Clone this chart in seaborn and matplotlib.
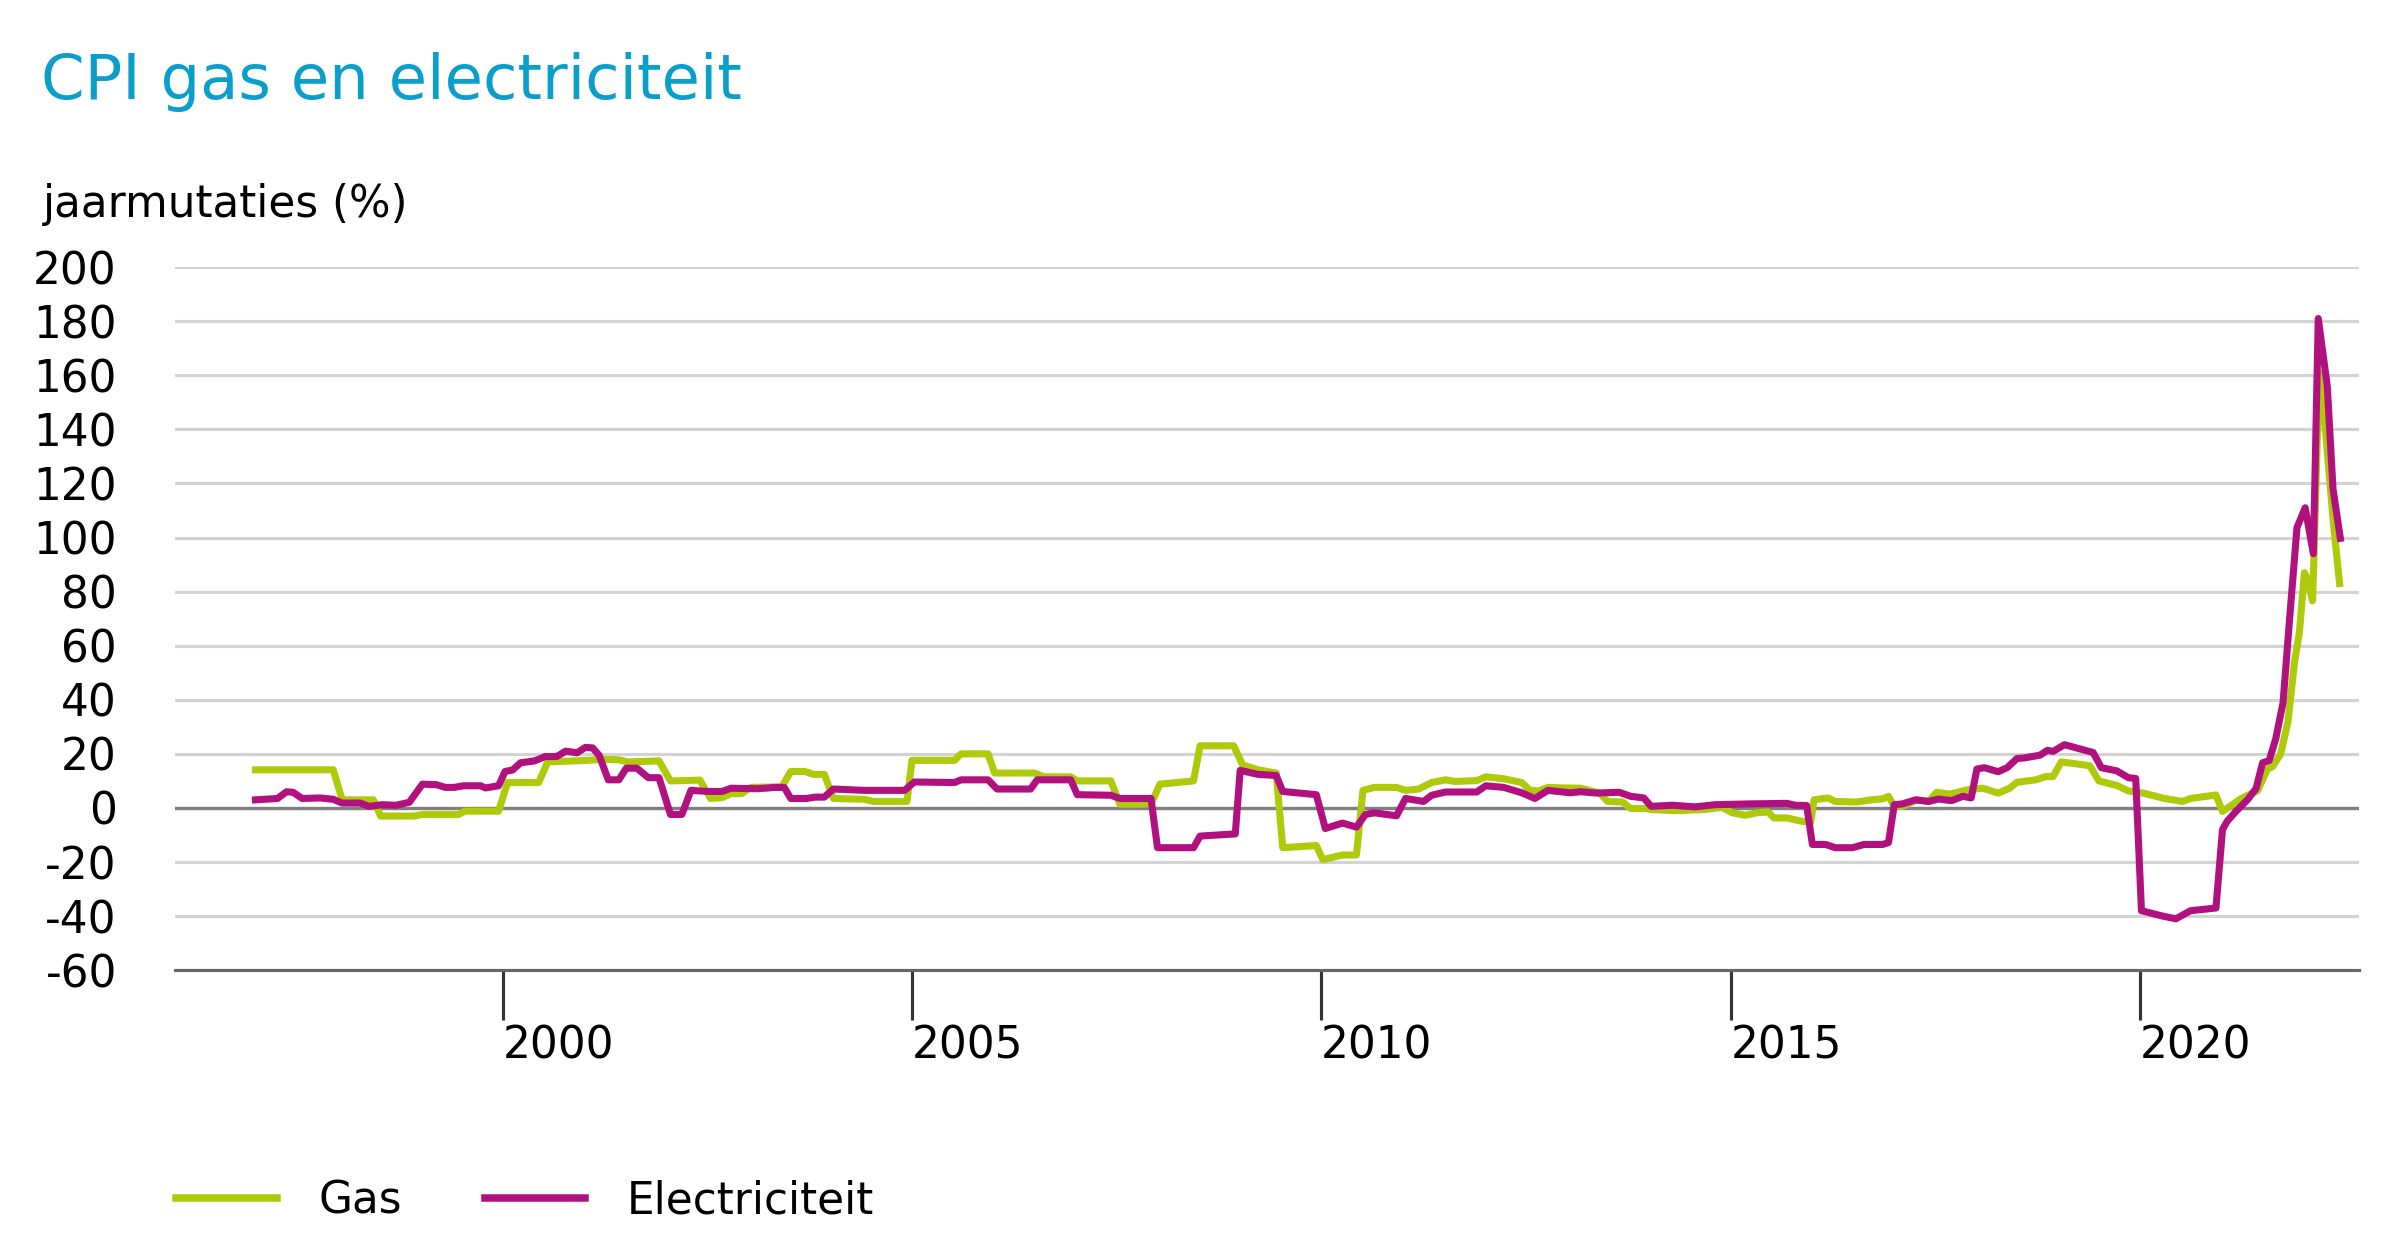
import pandas as pd
import numpy as np
import matplotlib.pyplot as plt
import seaborn as sns

# ====== data (decimal year, jaarmutatie %)
gas_t = [1996.98, 1997.93, 1998.04, 1998.42, 1998.51, 1998.92, 1999.02, 1999.46, 1999.54, 1999.95,
         2000.06, 2000.44, 2000.55, 2001.04, 2001.21, 2001.42, 2001.53, 2001.91, 2002.05, 2002.41,
         2002.54, 2002.68, 2002.79, 2002.92, 2003.03, 2003.41, 2003.52, 2003.69, 2003.80, 2003.93,
         2004.04, 2004.42, 2004.53, 2004.94, 2005.00, 2005.52, 2005.60, 2005.93, 2006.01, 2006.50,
         2006.61, 2006.94, 2007.02, 2007.43, 2007.54, 2007.92, 2008.03, 2008.44, 2008.52, 2008.93,
         2009.04, 2009.23, 2009.45, 2009.53, 2009.94, 2010.02, 2010.26, 2010.43, 2010.51, 2010.65,
         2010.92, 2011.03, 2011.19, 2011.35, 2011.52, 2011.63, 2011.90, 2012.01, 2012.23, 2012.45,
         2012.55, 2012.66, 2012.77, 2012.94, 2013.17, 2013.40, 2013.50, 2013.68, 2013.78, 2013.96,
         2014.03, 2014.34, 2014.67, 2014.90, 2015.02, 2015.18, 2015.32, 2015.46, 2015.53, 2015.69,
         2015.88, 2015.98, 2016.02, 2016.19, 2016.28, 2016.54, 2016.72, 2016.86, 2016.93, 2017.00,
         2017.10, 2017.28, 2017.42, 2017.52, 2017.68, 2017.89, 2018.08, 2018.27, 2018.41, 2018.50,
         2018.73, 2018.85, 2018.94, 2019.04, 2019.20, 2019.39, 2019.50, 2019.72, 2019.86, 2020.04,
         2020.30, 2020.52, 2020.62, 2020.93, 2021.01, 2021.24, 2021.44, 2021.56, 2021.62, 2021.72,
         2021.81, 2021.89, 2021.95, 2022.01, 2022.05, 2022.11, 2022.13, 2022.19, 2022.27, 2022.36,
         2022.44]
gas_v = [14.1, 14.1, 3.0, 3.0, -3.0, -3.0, -2.4, -2.4, -1.2, -1.2,
         9.4, 9.4, 17.0, 17.6, 18.0, 17.8, 17.0, 17.4, 10.0, 10.3,
         3.5, 3.8, 5.3, 5.3, 7.6, 7.8, 13.5, 13.5, 12.4, 12.4,
         3.5, 3.2, 2.4, 2.4, 17.6, 17.6, 20.0, 20.0, 12.9, 12.9,
         11.5, 11.5, 10.0, 10.0, 1.4, 1.4, 8.8, 10.0, 23.0, 23.0,
         15.9, 14.1, 12.9, -14.7, -13.9, -19.1, -17.4, -17.4, 6.5, 7.6,
         7.6, 6.5, 7.0, 9.4, 10.4, 9.8, 10.1, 11.5, 10.8, 9.4,
         6.5, 6.3, 7.6, 7.4, 7.3, 5.5, 2.4, 2.2, -0.2, -0.2,
         -0.6, -1.0, -0.6, 0.2, -1.8, -2.7, -1.8, -1.5, -3.7, -3.7,
         -5.0, -5.2, 3.0, 3.7, 2.4, 2.2, 3.0, 3.4, 4.3, 0.6,
         0.6, 3.0, 2.4, 5.8, 5.1, 6.7, 7.3, 5.5, 7.3, 9.5,
         10.4, 11.6, 11.6, 17.0, 16.4, 15.6, 10.0, 8.3, 6.3, 5.5,
         3.5, 2.4, 3.5, 4.8, -1.3, 3.5, 6.4, 14.4, 15.2, 19.9,
         31.9, 54.0, 65.0, 87.0, 84.5, 76.6, 95.7, 161.0, 139.0, 107.0,
         83.0]

elec_t = [1996.98, 1997.25, 1997.36, 1997.44, 1997.55, 1997.77, 1997.93, 1998.04, 1998.26, 1998.37,
          1998.53, 1998.70, 1998.86, 1999.02, 1999.19, 1999.30, 1999.41, 1999.52, 1999.73, 1999.79,
          1999.95, 2000.03, 2000.12, 2000.22, 2000.39, 2000.52, 2000.66, 2000.77, 2000.91, 2001.01,
          2001.10, 2001.18, 2001.29, 2001.42, 2001.51, 2001.64, 2001.78, 2001.91, 2002.05, 2002.19,
          2002.30, 2002.51, 2002.68, 2002.79, 2003.12, 2003.33, 2003.44, 2003.52, 2003.71, 2003.82,
          2003.93, 2004.04, 2004.42, 2004.91, 2005.03, 2005.52, 2005.60, 2005.93, 2006.04, 2006.45,
          2006.53, 2006.94, 2007.02, 2007.43, 2007.54, 2007.92, 2008.00, 2008.44, 2008.52, 2008.95,
          2009.01, 2009.23, 2009.45, 2009.53, 2009.94, 2010.05, 2010.26, 2010.43, 2010.54, 2010.65,
          2010.92, 2011.03, 2011.25, 2011.35, 2011.52, 2011.90, 2012.01, 2012.23, 2012.45, 2012.61,
          2012.77, 2013.04, 2013.17, 2013.36, 2013.64, 2013.78, 2013.94, 2014.03, 2014.29, 2014.57,
          2014.81, 2015.23, 2015.69, 2015.79, 2015.93, 2016.00, 2016.16, 2016.28, 2016.49, 2016.63,
          2016.86, 2016.93, 2017.00, 2017.10, 2017.26, 2017.42, 2017.54, 2017.70, 2017.84, 2017.94,
          2018.01, 2018.10, 2018.27, 2018.38, 2018.50, 2018.59, 2018.78, 2018.87, 2018.94, 2019.08,
          2019.25, 2019.43, 2019.53, 2019.72, 2019.86, 2019.95, 2020.02, 2020.28, 2020.44, 2020.62,
          2020.93, 2021.01, 2021.07, 2021.19, 2021.32, 2021.42, 2021.50, 2021.58, 2021.66, 2021.75,
          2021.83, 2021.92, 2022.02, 2022.12, 2022.18, 2022.29, 2022.36, 2022.45]
elec_v = [3.0, 3.5, 6.0, 5.8, 3.5, 3.7, 3.2, 1.8, 1.8, 0.6,
          1.2, 1.0, 2.1, 8.8, 8.6, 7.6, 7.6, 8.2, 8.2, 7.4,
          8.2, 13.5, 14.0, 16.7, 17.4, 19.0, 19.0, 21.0, 20.4, 22.4,
          22.2, 19.4, 10.4, 10.4, 14.7, 14.7, 11.2, 11.2, -2.4, -2.4,
          6.5, 6.1, 6.1, 7.3, 7.1, 7.6, 7.6, 3.5, 3.5, 4.0,
          4.0, 7.0, 6.5, 6.5, 9.6, 9.4, 10.4, 10.4, 7.0, 7.0,
          10.4, 10.4, 4.9, 4.7, 3.5, 3.5, -14.7, -14.7, -10.4, -9.6,
          13.9, 12.4, 12.0, 6.1, 4.9, -7.6, -5.6, -7.1, -2.4, -1.8,
          -2.9, 3.5, 2.4, 4.7, 5.9, 5.9, 8.2, 7.6, 5.6, 3.5,
          6.5, 5.6, 6.0, 5.5, 5.8, 4.3, 3.7, 0.6, 1.0, 0.4,
          1.2, 1.5, 1.7, 1.0, 0.9, -13.5, -13.5, -14.7, -14.7, -13.5,
          -13.5, -12.8, 1.2, 1.5, 3.0, 2.4, 3.3, 2.7, 4.3, 3.7,
          14.4, 14.9, 13.4, 14.9, 18.3, 18.5, 19.5, 21.3, 20.9, 23.4,
          22.0, 20.5, 14.9, 13.7, 11.2, 10.9, -38.0, -40.0, -41.0, -38.0,
          -37.0, -8.0, -4.8, -0.8, 3.2, 7.2, 16.7, 17.5, 25.5, 39.0,
          70.0, 103.7, 111.0, 94.0, 181.0, 156.0, 118.0, 99.7]

y_ticks = [-60, -40, -20, 0, 20, 40, 60, 80, 100, 120, 140, 160, 180, 200]
x_ticks = [2000, 2005, 2010, 2015, 2020]

GAS_COLOR = '#afca0b'
ELEC_COLOR = '#b0117f'

df = pd.concat([
    pd.DataFrame({'jaar': gas_t, 'waarde': gas_v, 'reeks': 'Gas'}),
    pd.DataFrame({'jaar': elec_t, 'waarde': elec_v, 'reeks': 'Electriciteit'}),
])

plt.rcParams['font.family'] = 'DejaVu Sans'
fig = plt.figure(figsize=(16, 8.4), dpi=150)
ax = fig.add_axes([0.073, 0.230, 0.910, 0.558])

sns.lineplot(data=df, x='jaar', y='waarde', hue='reeks', sort=False,
             palette={'Gas': GAS_COLOR, 'Electriciteit': ELEC_COLOR},
             linewidth=3.4, ax=ax, legend=False, estimator=None)

ax.set_xlim(1996.0, 2022.68)
ax.set_ylim(-60, 200)
ax.set_yticks(y_ticks)
ax.set_yticklabels([str(t) for t in y_ticks], fontsize=21)
ax.yaxis.grid(True, color='#d3d3d3', linewidth=1.5)
ax.set_axisbelow(True)
ax.axhline(0, color='#808080', linewidth=1.6, zorder=1.5)
ax.tick_params(axis='y', length=0, pad=28)

ax.set_xticks(x_ticks)
ax.set_xticklabels([str(t) for t in x_ticks], fontsize=21, ha='left')
ax.tick_params(axis='x', length=24, width=1.5, color='#333333', pad=2)
ax.set_xlabel('')
ax.set_ylabel('')

for s in ['top', 'right', 'left']:
    ax.spines[s].set_visible(False)
ax.spines['bottom'].set_color('#666666')
ax.spines['bottom'].set_linewidth(1.5)

fig.text(0.017, 0.935, 'CPI gas en electriciteit', fontsize=30, color='#0a9fcb', va='center')
fig.text(0.018, 0.838, 'jaarmutaties (%)', fontsize=21, color='black', va='center')

handles = [plt.Line2D([], [], color=GAS_COLOR, linewidth=3.6),
           plt.Line2D([], [], color=ELEC_COLOR, linewidth=3.6)]
fig.legend(handles, ['Gas', 'Electriciteit'], loc='center left', bbox_to_anchor=(0.0733, 0.047),
           ncol=2, frameon=False, fontsize=21, handlelength=2.3, handletextpad=0.95,
           columnspacing=1.9, borderpad=0, borderaxespad=0)

fig.savefig('out.png', dpi=150)
